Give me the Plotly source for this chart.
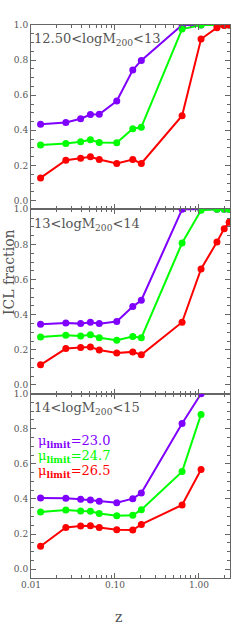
import plotly.graph_objects as go
from plotly.subplots import make_subplots

# ---- data ----
z_grid = [0.013, 0.026, 0.039, 0.051, 0.065, 0.105, 0.163, 0.206, 0.63, 1.06, 1.64, 2.0, 2.29]
z_grid3 = z_grid[:10]

p1_red = [0.129, 0.230, 0.241, 0.249, 0.234, 0.211, 0.234, 0.211, 0.483, 0.920, 0.985, 0.997, 1.0]
p1_green = [0.317, 0.325, 0.335, 0.346, 0.331, 0.329, 0.409, 0.418, 0.977, 1.0, 1.0, 1.0, 1.0]
p1_purple = [0.435, 0.445, 0.466, 0.490, 0.492, 0.567, 0.743, 0.798, 1.0, 1.0, 1.0, 1.0, 1.0]

p2_red = [0.114, 0.207, 0.213, 0.216, 0.199, 0.182, 0.188, 0.171, 0.357, 0.660, 0.814, 0.890, 0.926]
p2_green = [0.273, 0.283, 0.279, 0.285, 0.269, 0.254, 0.275, 0.268, 0.808, 0.995, 1.0, 1.0, 1.0]
p2_purple = [0.345, 0.353, 0.349, 0.357, 0.349, 0.361, 0.446, 0.482, 1.0, 1.0, 1.0, 1.0, 1.0]

p3_red = [0.131, 0.238, 0.246, 0.248, 0.238, 0.225, 0.223, 0.255, 0.366, 0.568]
p3_green = [0.326, 0.337, 0.331, 0.330, 0.318, 0.305, 0.307, 0.339, 0.556, 0.882]
p3_purple = [0.406, 0.404, 0.398, 0.394, 0.387, 0.379, 0.402, 0.434, 0.830, 1.0]

panel_labels = ["12.50<logM<sub>200</sub><13", "13<logM<sub>200</sub><14", "14<logM<sub>200</sub><15"]
mu_labels = ["23.0", "24.7", "26.5"]

x_tickvals = [0.01, 0.1, 1.0]
x_ticktext = ["0.01", "0.10", "1.00"]
x_minor = [0.02, 0.03, 0.04, 0.05, 0.06, 0.07, 0.08, 0.09,
           0.2, 0.3, 0.4, 0.5, 0.6, 0.7, 0.8, 0.9, 2.0]

PURPLE = "#7F00FF"
GREEN = "#00FF00"
RED = "#FF0000"
FONT = "DejaVu Serif"
GRAY = "#555555"

W, H = 249, 630
ML, MR, MT, MB = 31, 19, 25, 52

fig = make_subplots(rows=3, cols=1, shared_xaxes=True, vertical_spacing=0)

panels = [
    (z_grid, p1_purple, p1_green, p1_red),
    (z_grid, p2_purple, p2_green, p2_red),
    (z_grid3, p3_purple, p3_green, p3_red),
]
for i, (zz, pu, gr, rd) in enumerate(panels, start=1):
    for vals, col in [(pu, PURPLE), (gr, GREEN), (rd, RED)]:
        fig.add_trace(go.Scatter(
            x=zz, y=vals, mode="lines+markers",
            line=dict(color=col, width=2),
            marker=dict(color=col, size=7),
            showlegend=False, cliponaxis=True,
        ), row=i, col=1)

for i in range(1, 4):
    fig.update_xaxes(
        type="log", range=[-2, 0.37],
        tickvals=x_tickvals, ticktext=x_ticktext,
        ticks="inside", ticklen=5, tickcolor="#666", tickwidth=1,
        minor=dict(tickvals=x_minor, ticks="inside", ticklen=3, tickcolor="#666"),
        showline=True, linecolor="#666", linewidth=1, mirror="ticks",
        showgrid=False, zeroline=False,
        tickfont=dict(family=FONT, size=9, color=GRAY),
        ticklabelstandoff=-2,
        row=i, col=1,
    )
    fig.update_yaxes(
        range=[-0.05, 1.0], tick0=0, dtick=0.2, tickformat=".1f",
        ticks="inside", ticklen=5, tickcolor="#666", tickwidth=1,
        minor=dict(dtick=0.05, tick0=0, ticks="inside", ticklen=3, tickcolor="#666"),
        showline=True, linecolor="#666", linewidth=1, mirror="ticks",
        showgrid=False, zeroline=False,
        tickfont=dict(family=FONT, size=9, color=GRAY),
        row=i, col=1,
    )

plot_h = H - MT - MB
plot_w = W - ML - MR


def py(p):
    return (H - MB - p) / plot_h


def px(p):
    return (p - ML) / plot_w


annotations = []
panel_tops = [25, 209.3, 393.7]
for lab, top in zip(panel_labels, panel_tops):
    annotations.append(dict(
        x=px(32), y=py(top + 15), xref="paper", yref="paper",
        xanchor="left", yanchor="middle", showarrow=False,
        text=lab, font=dict(family=FONT, size=13, color=GRAY),
    ))

for lab, col, ypos in zip(mu_labels, [PURPLE, GREEN, RED], [441, 456, 471]):
    annotations.append(dict(
        x=px(36), y=py(ypos), xref="paper", yref="paper",
        xanchor="left", yanchor="middle", showarrow=False,
        text="\u03bc<sub><b>limit</b></sub>=" + lab,
        font=dict(family=FONT, size=13, color=col),
    ))

annotations.append(dict(
    x=px(9), y=py(272), xref="paper", yref="paper",
    xanchor="center", yanchor="middle", showarrow=False, textangle=-90,
    text="ICL fraction", font=dict(family=FONT, size=14, color=GRAY),
))
annotations.append(dict(
    x=px(118), y=py(617), xref="paper", yref="paper",
    xanchor="center", yanchor="middle", showarrow=False,
    text="z", font=dict(family=FONT, size=14, color=GRAY),
))

fig.update_layout(
    width=W, height=H,
    margin=dict(l=ML, r=MR, t=MT, b=MB, pad=0),
    paper_bgcolor="white", plot_bgcolor="white",
    annotations=annotations,
    showlegend=False,
)

fig.write_html(
    "out.html",
    config={"displayModeBar": False},
    post_script="document.body.style.margin='0';document.body.style.padding='0';",
)
